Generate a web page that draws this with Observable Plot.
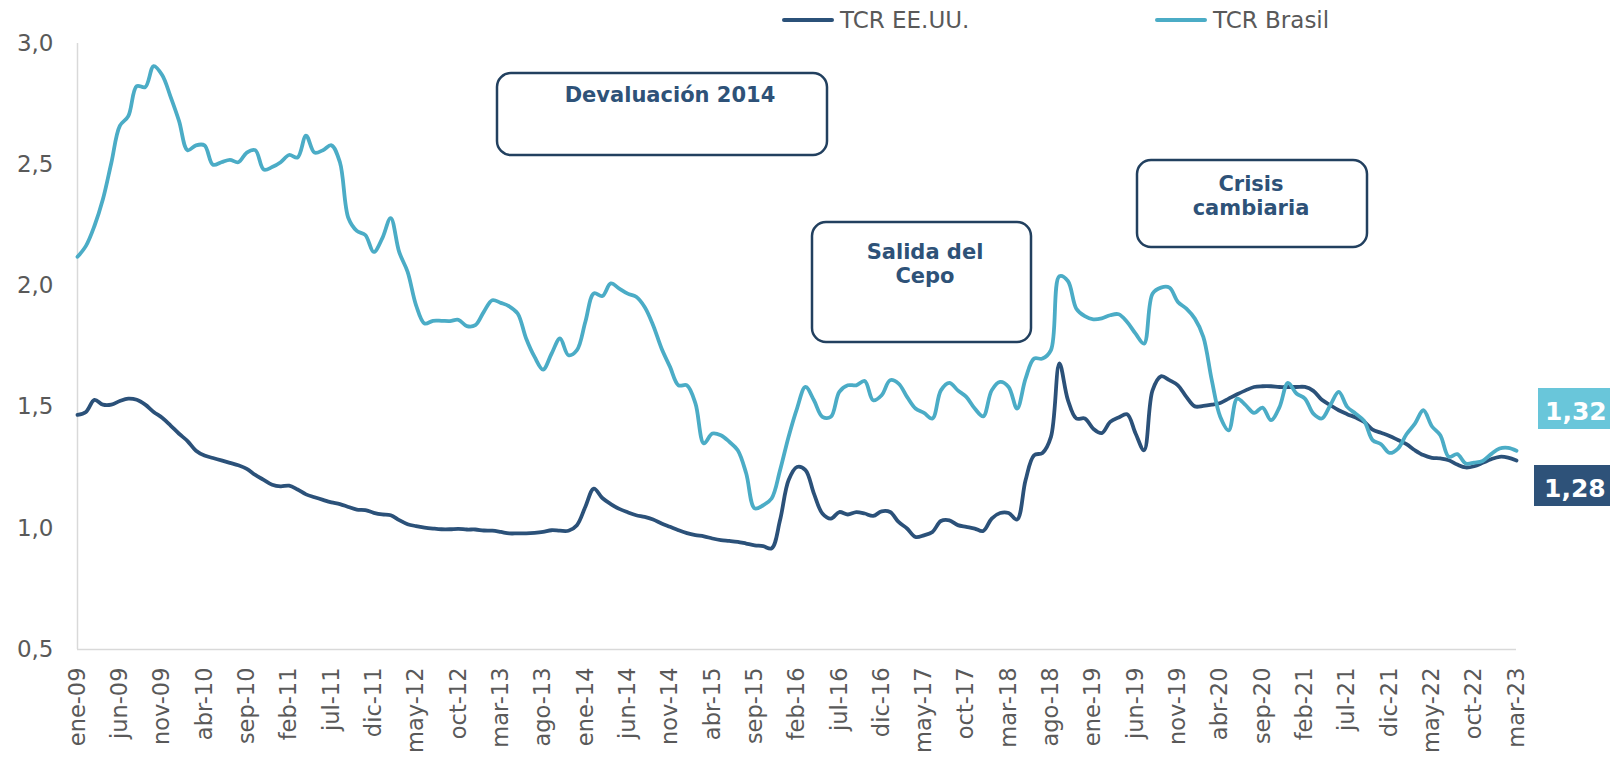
<!DOCTYPE html>
<html>
<head>
<meta charset="utf-8">
<script src="https://cdn.jsdelivr.net/npm/d3@7"></script>
<script src="https://cdn.jsdelivr.net/npm/@observablehq/plot@0.6"></script>
<style>
  body { margin: 0; background: #ffffff; }
  #wrap { position: relative; width: 1610px; height: 760px; overflow: hidden; font-family: "DejaVu Sans", Verdana, sans-serif; }
  .leg { position: absolute; top: 6px; height: 28px; font-size: 23px; color: #595959; display: flex; align-items: center; white-space: nowrap; }
  .leg .sw { display: inline-block; width: 52px; height: 4px; border-radius: 2px; margin-right: 6px; }
  #chart { position: absolute; left: 0; top: 0; }
</style>
</head>
<body>
<div id="wrap">
  <div id="chart"></div>
</div>
<script>
// ---- data ----
const monthNames = ["ene","feb","mar","abr","may","jun","jul","ago","sep","oct","nov","dic"];
const startYear = 2009;
const seriesNames = ["TCR EE.UU.", "TCR Brasil"];
const tickLabels = ["ene-09","jun-09","nov-09","abr-10","sep-10","feb-11","jul-11","dic-11","may-12","oct-12",
  "mar-13","ago-13","ene-14","jun-14","nov-14","abr-15","sep-15","feb-16","jul-16","dic-16",
  "may-17","oct-17","mar-18","ago-18","ene-19","jun-19","nov-19","abr-20","sep-20","feb-21",
  "jul-21","dic-21","may-22","oct-22","mar-23"];
const yTicks = [0.5, 1.0, 1.5, 2.0, 2.5, 3.0];

const usValues = [1.468,1.48,1.53,1.51,1.51,1.525,1.535,1.53,1.51,1.48,
  1.456,1.424,1.39,1.36,1.32,1.30,1.29,1.28,1.27,1.26,
  1.245,1.22,1.20,1.18,1.173,1.176,1.16,1.14,1.128,1.117,
  1.107,1.10,1.088,1.077,1.075,1.064,1.057,1.054,1.034,1.017,
  1.009,1.003,0.999,0.996,0.996,0.998,0.995,0.995,0.991,0.99,
  0.985,0.979,0.979,0.979,0.981,0.985,0.992,0.99,0.99,1.013,
  1.089,1.164,1.125,1.10,1.08,1.066,1.054,1.047,1.036,1.02,
  1.006,0.992,0.98,0.972,0.967,0.958,0.951,0.948,0.944,0.937,
  0.93,0.926,0.917,1.034,1.198,1.253,1.24,1.143,1.061,1.04,
  1.067,1.057,1.067,1.061,1.051,1.07,1.067,1.026,0.999,0.964,
  0.971,0.985,1.03,1.033,1.013,1.006,0.999,0.989,1.04,1.063,
  1.063,1.036,1.198,1.301,1.311,1.377,1.68,1.53,1.453,1.453,
  1.411,1.393,1.439,1.457,1.47,1.391,1.322,1.569,1.627,1.611,
  1.59,1.542,1.503,1.505,1.51,1.517,1.535,1.553,1.569,1.583,
  1.586,1.586,1.583,1.583,1.583,1.583,1.567,1.53,1.508,1.487,
  1.471,1.457,1.439,1.407,1.394,1.381,1.364,1.347,1.322,1.302,
  1.291,1.288,1.281,1.263,1.251,1.256,1.27,1.285,1.295,1.292,
  1.28];

const brValues = [2.12,2.165,2.247,2.357,2.508,2.66,2.70,2.824,2.82,2.907,
  2.87,2.78,2.68,2.56,2.58,2.58,2.50,2.51,2.52,2.51,
  2.55,2.56,2.48,2.49,2.51,2.54,2.53,2.62,2.55,2.56,
  2.58,2.51,2.28,2.227,2.21,2.14,2.196,2.28,2.14,2.058,
  1.92,1.845,1.856,1.856,1.855,1.86,1.834,1.838,1.893,1.941,
  1.93,1.916,1.886,1.783,1.707,1.655,1.72,1.783,1.714,1.735,
  1.852,1.969,1.958,2.01,1.989,1.968,1.955,1.913,1.838,1.742,
  1.666,1.59,1.59,1.515,1.35,1.391,1.384,1.357,1.322,1.226,
  1.082,1.095,1.123,1.24,1.377,1.494,1.583,1.528,1.46,1.46,
  1.563,1.59,1.59,1.608,1.528,1.549,1.611,1.597,1.542,1.494,
  1.476,1.453,1.569,1.60,1.569,1.542,1.494,1.462,1.569,1.604,
  1.583,1.494,1.617,1.70,1.70,1.735,2.04,2.02,1.906,1.875,
  1.862,1.866,1.879,1.883,1.851,1.803,1.762,1.968,1.993,1.993,
  1.934,1.906,1.865,1.79,1.611,1.46,1.404,1.535,1.508,1.476,
  1.498,1.446,1.50,1.60,1.556,1.535,1.473,1.453,1.508,1.563,
  1.501,1.473,1.443,1.364,1.347,1.311,1.329,1.388,1.432,1.487,
  1.421,1.384,1.295,1.306,1.267,1.271,1.278,1.306,1.329,1.332,
  1.32];

const annotationTexts = [["Devaluación 2014"], ["Salida del", "Cepo"], ["Crisis", "cambiaria"]];

// ---- styles / layout ----
const colors = ["#2B5179", "#4BACC6"];
const labelFills = ["#2E5279", "#69C6DA"];
const boxLayout = [
  {x: 497, y: 73, w: 330, h: 82, cx: 670, base: 102},
  {x: 812, y: 222, w: 219, h: 120, cx: 925, base: 259},
  {x: 1137, y: 160, w: 230, h: 87, cx: 1251, base: 191}
];
const valueLabelLayout = [
  {x: 1534, y: 465, w: 90, h: 41, tx: 1544, base: 497},
  {x: 1538, y: 388, w: 90, h: 41, tx: 1545, base: 420}
];

// ---- build ----
const categories = usValues.map((_, i) =>
  `${monthNames[i % 12]}-${String((startYear + Math.floor(i / 12)) % 100).padStart(2, "0")}`);
const rows = [];
[usValues, brValues].forEach((vals, s) => vals.forEach((v, i) => rows.push({date: categories[i], serie: seriesNames[s], v})));
const fmt = d => d.toFixed(2).replace(".", ",");

const plot = Plot.plot({
  width: 1610, height: 760,
  marginLeft: 77, marginRight: 94, marginTop: 43, marginBottom: 111,
  style: {fontFamily: "'DejaVu Sans', Verdana, sans-serif", fontSize: "23px", color: "#595959", background: "transparent", overflow: "visible"},
  x: {type: "point", domain: categories, padding: 0, label: null},
  y: {domain: [0.5, 3.0], label: null},
  color: {domain: seriesNames, range: colors},
  marks: [
    Plot.ruleX([categories[0]], {stroke: "#d9d9d9", strokeWidth: 1.5}),
    Plot.ruleY([0.5], {stroke: "#d9d9d9", strokeWidth: 1.5}),
    Plot.axisY({ticks: yTicks, tickFormat: d => d.toFixed(1).replace(".", ","), tickSize: 0, tickPadding: 24, fontSize: 23, label: null, fill: "#595959"}),
    Plot.axisX({ticks: tickLabels, tickRotate: -90, tickSize: 0, tickPadding: 18, fontSize: 22.5, label: null, fill: "#595959"}),
    Plot.line(rows, {x: "date", y: "v", stroke: "serie", z: "serie", strokeWidth: 3.8, curve: "catmull-rom", strokeLinejoin: "round", strokeLinecap: "round"})
  ]
});
document.getElementById("chart").appendChild(plot);

// annotation boxes
const svg = d3.select(plot);
const ann = svg.append("g").attr("font-family", "'DejaVu Sans', Verdana, sans-serif");
boxLayout.forEach((b, k) => {
  ann.append("rect").attr("x", b.x).attr("y", b.y).attr("width", b.w).attr("height", b.h)
    .attr("rx", 14).attr("ry", 14).attr("fill", "none").attr("stroke", "#22405F").attr("stroke-width", 2.5);
  annotationTexts[k].forEach((t, j) => {
    ann.append("text").attr("x", b.cx).attr("y", b.base + j * 24).attr("text-anchor", "middle")
      .attr("font-size", 21).attr("font-weight", "bold").attr("fill", "#2E5278").text(t);
  });
});
// last-value labels
[usValues, brValues].forEach((vals, s) => {
  const L = valueLabelLayout[s];
  ann.append("rect").attr("x", L.x).attr("y", L.y).attr("width", L.w).attr("height", L.h).attr("fill", labelFills[s]);
  ann.append("text").attr("x", L.tx).attr("y", L.base).attr("text-anchor", "start").attr("font-size", 25).attr("font-weight", "bold")
    .attr("fill", "#ffffff").text(fmt(vals[vals.length - 1]));
});

// legend
const wrap = document.getElementById("wrap");
const legPos = [782, 1155];
seriesNames.forEach((name, s) => {
  const el = document.createElement("div");
  el.className = "leg";
  el.style.left = legPos[s] + "px";
  el.innerHTML = `<span class="sw" style="background:${colors[s]}"></span><span>${name}</span>`;
  wrap.appendChild(el);
});
</script>
</body>
</html>
